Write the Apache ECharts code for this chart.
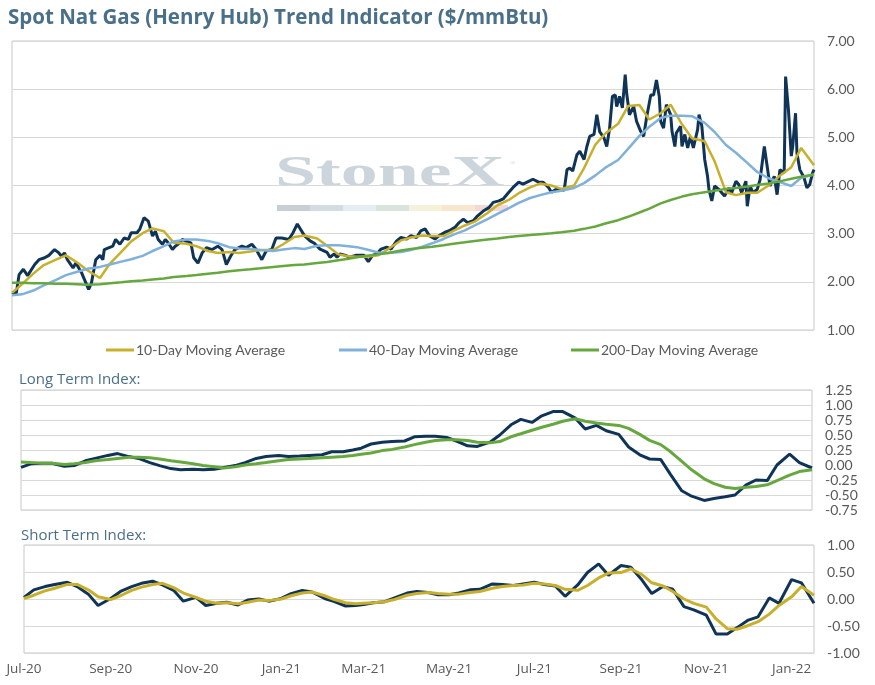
<!DOCTYPE html>
<html><head><meta charset="utf-8">
<script src="https://cdn.jsdelivr.net/npm/echarts@6/dist/echarts.min.js"></script>
<style>html,body{margin:0;padding:0;background:#fff}#c{width:875px;height:685px}</style>
</head><body><div id="c"></div>
<script>
// ---- sampling dates for the moving averages and indices ----
const weekDates = [
'2020-07-01','2020-07-08','2020-07-16','2020-07-23','2020-08-01','2020-08-08','2020-08-16','2020-08-23',
'2020-09-01','2020-09-08','2020-09-16','2020-09-23','2020-10-01','2020-10-08','2020-10-16','2020-10-23',
'2020-11-01','2020-11-08','2020-11-16','2020-11-23','2020-12-01','2020-12-08','2020-12-16','2020-12-23',
'2021-01-01','2021-01-08','2021-01-16','2021-01-23','2021-02-01','2021-02-08','2021-02-16','2021-02-23',
'2021-03-01','2021-03-08','2021-03-16','2021-03-23','2021-04-01','2021-04-08','2021-04-16','2021-04-23',
'2021-05-01','2021-05-08','2021-05-16','2021-05-23','2021-06-01','2021-06-08','2021-06-16','2021-06-23',
'2021-07-01','2021-07-08','2021-07-16','2021-07-23','2021-08-01','2021-08-08','2021-08-16','2021-08-23',
'2021-09-01','2021-09-08','2021-09-16','2021-09-23','2021-10-01','2021-10-08','2021-10-16','2021-10-23',
'2021-11-01','2021-11-08','2021-11-16','2021-11-23','2021-12-01','2021-12-08','2021-12-16','2021-12-23',
'2022-01-01','2022-01-08','2022-01-17'];

// ---- spot price (Henry Hub, $/mmBtu) ----
const spotDates = [
'2020-07-01','2020-07-04','2020-07-06','2020-07-09','2020-07-12','2020-07-17','2020-07-20','2020-07-24','2020-07-27','2020-07-31',
'2020-08-03','2020-08-05','2020-08-07','2020-08-09','2020-08-13','2020-08-15','2020-08-19','2020-08-21','2020-08-24','2020-08-26','2020-08-29',
'2020-09-01','2020-09-03','2020-09-04','2020-09-10','2020-09-12','2020-09-15','2020-09-18','2020-09-21','2020-09-23','2020-09-27','2020-09-29',
'2020-10-02','2020-10-05','2020-10-08','2020-10-10','2020-10-12','2020-10-15','2020-10-17','2020-10-19','2020-10-22','2020-10-24','2020-10-26','2020-10-29',
'2020-11-01','2020-11-04','2020-11-06','2020-11-09','2020-11-12','2020-11-15','2020-11-19','2020-11-23','2020-11-26','2020-11-29',
'2020-12-02','2020-12-05','2020-12-10','2020-12-13','2020-12-17','2020-12-20','2020-12-24','2020-12-27','2020-12-31',
'2021-01-03','2021-01-07','2021-01-12','2021-01-15','2021-01-18','2021-01-23','2021-01-27','2021-01-30',
'2021-02-03','2021-02-08','2021-02-10','2021-02-13','2021-02-15','2021-02-17','2021-02-21','2021-02-24','2021-02-28',
'2021-03-03','2021-03-06','2021-03-09','2021-03-12','2021-03-15','2021-03-18','2021-03-22','2021-03-25','2021-03-29',
'2021-04-01','2021-04-05','2021-04-08','2021-04-12','2021-04-15','2021-04-18','2021-04-21','2021-04-25','2021-04-28',
'2021-05-02','2021-05-05','2021-05-09','2021-05-12','2021-05-15','2021-05-18','2021-05-22','2021-05-25','2021-05-29',
'2021-06-02','2021-06-05','2021-06-09','2021-06-12','2021-06-16','2021-06-19','2021-06-23','2021-06-26',
'2021-07-01','2021-07-03','2021-07-07','2021-07-10','2021-07-14','2021-07-16','2021-07-20','2021-07-22','2021-07-25','2021-07-27','2021-07-29','2021-07-31',
'2021-08-03','2021-08-05','2021-08-08','2021-08-10','2021-08-12','2021-08-15','2021-08-17','2021-08-19','2021-08-22','2021-08-24','2021-08-26','2021-08-28','2021-08-30','2021-08-31',
'2021-09-02','2021-09-04','2021-09-06','2021-09-07','2021-09-09','2021-09-12','2021-09-14','2021-09-17','2021-09-19','2021-09-21','2021-09-24','2021-09-26','2021-09-28','2021-09-30',
'2021-10-01','2021-10-03','2021-10-05','2021-10-08','2021-10-09','2021-10-11','2021-10-12','2021-10-15','2021-10-16','2021-10-18','2021-10-20','2021-10-22','2021-10-24','2021-10-27','2021-10-28','2021-10-30',
'2021-11-01','2021-11-03','2021-11-04','2021-11-06','2021-11-08','2021-11-11','2021-11-13','2021-11-15','2021-11-18','2021-11-20','2021-11-23','2021-11-25','2021-11-27','2021-11-30',
'2021-12-01','2021-12-03','2021-12-05','2021-12-08','2021-12-10','2021-12-13','2021-12-14','2021-12-15','2021-12-17','2021-12-20','2021-12-22','2021-12-24','2021-12-27','2021-12-28','2021-12-30',
'2022-01-01','2022-01-02','2022-01-04','2022-01-05','2022-01-07','2022-01-10','2022-01-12','2022-01-14','2022-01-16','2022-01-17'];
const spotPrice = [
1.78,1.76,2.15,2.26,2.13,2.36,2.46,2.50,2.55,2.67,
2.60,2.53,2.60,2.46,2.29,2.39,2.19,2.05,1.84,1.98,2.46,
2.55,2.46,2.67,2.74,2.88,2.78,2.91,2.88,3.02,3.02,3.09,
3.33,3.26,2.95,3.05,2.88,2.78,2.88,2.81,2.67,2.74,2.78,2.88,
2.84,2.81,2.50,2.39,2.60,2.71,2.67,2.74,2.67,2.36,
2.53,2.67,2.74,2.71,2.78,2.67,2.46,2.64,2.67,
2.91,2.91,2.88,3.02,3.20,2.96,2.85,2.80,
2.68,2.61,2.51,2.58,2.51,2.58,2.55,2.51,2.55,
2.55,2.55,2.42,2.55,2.58,2.68,2.72,2.68,2.85,
2.92,2.89,2.96,2.92,3.06,3.10,2.96,2.89,2.96,
3.03,3.06,3.13,3.23,3.30,3.23,3.27,3.37,3.47,
3.54,3.65,3.68,3.72,3.86,3.96,4.07,4.03,
4.10,4.13,4.07,4.07,3.96,3.86,3.93,3.92,3.90,4.33,4.36,4.30,
4.64,4.71,4.54,4.81,5.02,5.06,5.47,5.12,4.99,4.81,5.19,5.85,5.88,5.64,
5.85,5.61,6.30,5.92,5.47,5.64,5.33,5.12,5.02,5.40,5.88,5.88,6.19,5.85,
5.33,5.19,5.68,5.47,5.12,4.81,5.09,5.23,4.81,5.06,4.78,5.02,4.78,5.16,5.47,5.23,
4.54,4.19,3.92,3.68,3.99,3.92,3.85,3.78,3.95,3.85,4.09,4.02,3.85,4.09,
3.57,3.99,3.85,3.92,4.12,4.81,4.85,4.40,3.99,4.19,3.81,4.33,4.26,6.26,5.57,
4.61,4.81,5.50,4.67,4.33,4.16,3.95,4.02,4.26,4.33];

// ---- moving averages of spot ($/mmBtu) ----
const ma10 = [
1.77,1.95,2.17,2.34, 2.46,2.55,2.40,2.24, 2.08,2.38,2.62,2.84, 3.01,3.11,3.05,2.81,
2.79,2.74,2.64,2.60, 2.62,2.60,2.63,2.66, 2.66,2.78,2.93,2.96, 2.90,2.75,2.57,2.53,
2.52,2.52,2.55,2.68, 2.86,2.92,2.96,2.95, 2.95,3.06,3.17,3.25, 3.43,3.59,3.70,3.84,
3.96,4.04,4.00,3.93, 4.00,4.36,4.85,5.08, 5.28,5.65,5.67,5.37, 5.50,5.68,5.27,4.98,
4.92,4.50,3.86,3.80, 3.85,3.85,4.00,4.18, 4.38,4.78,4.42];
const ma40 = [
1.72,1.74,1.82,1.92, 2.04,2.14,2.21,2.27, 2.31,2.36,2.42,2.47, 2.54,2.64,2.74,2.84,
2.88,2.88,2.85,2.80, 2.72,2.69,2.68,2.66, 2.64,2.67,2.70,2.68, 2.75,2.76,2.76,2.74,
2.72,2.67,2.61,2.60, 2.62,2.66,2.73,2.80, 2.89,2.98,3.07,3.17, 3.30,3.41,3.53,3.64,
3.74,3.80,3.86,3.89, 3.95,4.05,4.21,4.37, 4.53,4.76,5.03,5.22, 5.40,5.45,5.45,5.44,
5.30,5.11,4.84,4.68, 4.47,4.28,4.15,4.08, 3.99,4.16,4.23];
const ma200 = [
1.98,1.98,1.97,1.97, 1.96,1.96,1.95,1.94, 1.95,1.97,1.99,2.01, 2.03,2.05,2.07,2.10,
2.12,2.14,2.17,2.19, 2.22,2.24,2.26,2.28, 2.31,2.33,2.35,2.36, 2.39,2.41,2.45,2.48,
2.51,2.54,2.57,2.60, 2.65,2.68,2.71,2.73, 2.76,2.79,2.82,2.85, 2.88,2.90,2.93,2.95,
2.97,2.99,3.01,3.03, 3.06,3.10,3.15,3.21, 3.28,3.35,3.44,3.52, 3.63,3.70,3.77,3.82,
3.86,3.89,3.93,3.95, 3.98,4.01,4.04,4.08, 4.14,4.18,4.23];

// ---- long term index ----
const longIndex = [
-0.04,0.02,0.03,0.03, -0.02,-0.01,0.07,0.11, 0.16,0.19,0.14,0.11, 0.04,-0.01,-0.06,-0.08,
-0.07,-0.08,-0.07,-0.04, -0.01,0.04,0.11,0.14, 0.16,0.14,0.15,0.16, 0.17,0.22,0.22,0.25,
0.28,0.35,0.38,0.39, 0.40,0.47,0.48,0.48, 0.46,0.40,0.32,0.31, 0.38,0.50,0.67,0.76,
0.71,0.82,0.89,0.89, 0.78,0.60,0.66,0.57, 0.51,0.30,0.17,0.10, 0.09,-0.16,-0.43,-0.52,
-0.59,-0.56,-0.53,-0.50, -0.33,-0.25,-0.26,0.00, 0.18,0.04,-0.05];
const longAvg = [
0.05,0.04,0.03,0.03, 0.01,0.02,0.04,0.07, 0.09,0.11,0.13,0.13, 0.12,0.10,0.07,0.05,
0.02,-0.01,-0.03,-0.05, -0.03,0.00,0.02,0.04, 0.07,0.09,0.10,0.11, 0.12,0.13,0.14,0.16,
0.18,0.20,0.24,0.26, 0.30,0.34,0.38,0.41, 0.42,0.42,0.41,0.38, 0.37,0.39,0.47,0.52,
0.58,0.63,0.68,0.73, 0.77,0.73,0.70,0.68, 0.66,0.61,0.51,0.41, 0.34,0.22,0.06,-0.08,
-0.23,-0.31,-0.37,-0.39, -0.37,-0.36,-0.33,-0.26, -0.17,-0.11,-0.08];

// ---- short term index ----
const shortIndex = [
0.03,0.17,0.23,0.27, 0.31,0.23,0.09,-0.12, 0.01,0.14,0.23,0.29, 0.33,0.26,0.16,-0.04,
0.03,-0.12,-0.08,-0.06, -0.11,-0.02,0.00,-0.04, 0.01,0.10,0.16,0.13, 0.01,-0.05,-0.13,-0.12,
-0.10,-0.07,-0.05,0.02, 0.11,0.14,0.12,0.08, 0.08,0.11,0.17,0.18, 0.28,0.27,0.25,0.28,
0.31,0.27,0.24,0.05, 0.26,0.49,0.65,0.44, 0.62,0.59,0.35,0.10, 0.23,0.18,-0.14,-0.20,
-0.30,-0.65,-0.65,-0.53, -0.39,-0.33,0.02,-0.08, 0.36,0.30,-0.08];
const shortAvg = [
0.01,0.07,0.15,0.20, 0.27,0.27,0.17,0.04, -0.01,0.06,0.16,0.22, 0.27,0.29,0.21,0.11,
0.03,-0.04,-0.08,-0.07, -0.09,-0.06,-0.02,-0.03, 0.00,0.06,0.11,0.13, 0.06,-0.01,-0.07,-0.09,
-0.08,-0.07,-0.05,-0.01, 0.07,0.10,0.12,0.10, 0.09,0.09,0.12,0.14, 0.20,0.23,0.25,0.26,
0.29,0.28,0.25,0.18, 0.16,0.25,0.39,0.48, 0.49,0.56,0.45,0.30, 0.24,0.14,0.00,-0.08,
-0.15,-0.37,-0.55,-0.56, -0.49,-0.42,-0.28,-0.12, 0.04,0.23,0.07];

// ---- axis labels ----
const monthTicks = ['2020-07-01','2020-09-01','2020-11-01','2021-01-01','2021-03-01','2021-05-01',
                    '2021-07-01','2021-09-01','2021-11-01','2022-01-01'];
const monthNames = ['Jan','Feb','Mar','Apr','May','Jun','Jul','Aug','Sep','Oct','Nov','Dec'];
const axisStart = '2020-07-01', axisEnd = '2022-01-17';

const ts = s => { const p = s.split('-').map(Number); return new Date(p[0], p[1]-1, p[2]).getTime(); };
const pairs = (dates, vals) => dates.map((d, i) => [ts(d), vals[i]]);

const NAVY = '#0f3457', GOLD = '#c8b02c', BLUE = '#7fb1da', GREEN = '#66a83e';
const FONT = 'Lato';
const labelStyle = { color: '#595959', fontSize: 14, fontFamily: FONT };

function xAx(gridIndex, showLabels) {
  return {
    type: 'value', gridIndex, min: ts(axisStart), max: ts(axisEnd),
    axisLine: { show: false }, axisTick: { show: false }, splitLine: { show: false },
    axisLabel: showLabels ? Object.assign({
      margin: 9, customValues: monthTicks.map(ts), showMinLabel: true, showMaxLabel: true,
      formatter: v => { const d = new Date(v); return monthNames[d.getMonth()] + '-' + String(d.getFullYear()).slice(2); }
    }, labelStyle, { fontFamily: 'Open Sans', fontSize: 13.5 }) : { show: false }
  };
}
function yAx(gridIndex, min, max, interval) {
  return {
    type: 'value', gridIndex, position: 'right', min, max, interval,
    axisLine: { show: false }, axisTick: { show: false },
    splitLine: { lineStyle: { color: '#d9d9d9', width: 1 } },
    axisLabel: Object.assign({ margin: 13, formatter: v => v.toFixed(2) }, labelStyle)
  };
}
function line(name, xi, data, color, width, z) {
  return { name, type: 'line', xAxisIndex: xi, yAxisIndex: xi, data, showSymbol: false, symbol: 'none',
           lineStyle: { color, width }, itemStyle: { color }, z, emphasis: { disabled: true } };
}
const legendBase = { top: 338, icon: 'rect', itemWidth: 28, itemHeight: 3, itemGap: 0,
                     textStyle: { color: '#595959', fontSize: 14, fontFamily: FONT, padding: [0,0,0,-3] } };

const chart = echarts.init(document.getElementById('c'), null, { renderer: 'canvas' });
chart.setOption({
  animation: false,
  backgroundColor: '#ffffff',
  grid: [
    { left: 12, right: 61, top: 41, height: 289, show: true, borderColor: '#c8c8c8', borderWidth: 1 },
    { left: 21, right: 63, top: 390, height: 120, show: true, borderColor: '#c8c8c8', borderWidth: 1 },
    { left: 24, right: 61, top: 545, height: 108, show: true, borderColor: '#c8c8c8', borderWidth: 1 }
  ],
  title: [
    { text: 'Spot Nat Gas (Henry Hub) Trend Indicator ($/mmBtu)', left: 3, top: 3,
      textStyle: { color: '#4a6f89', fontSize: 20.5, fontWeight: 'bold', fontFamily: 'Open Sans' } },
    { text: 'Long Term Index:', left: 14, top: 367,
      textStyle: { color: '#4a6f89', fontSize: 15, fontWeight: 'normal', fontFamily: 'Open Sans' } },
    { text: 'Short Term Index:', left: 16, top: 523,
      textStyle: { color: '#4a6f89', fontSize: 15, fontWeight: 'normal', fontFamily: 'Open Sans' } }
  ],
  legend: [
    Object.assign({ left: 101, data: ['10-Day Moving Average'] }, legendBase),
    Object.assign({ left: 334, data: ['40-Day Moving Average'] }, legendBase),
    Object.assign({ left: 566, data: ['200-Day Moving Average'] }, legendBase)
  ],
  graphic: [
    { type: 'text', x: 275, y: 153, scaleX: 1.68, z: 0, silent: true,
      style: { text: 'StoneX', fill: '#cdd5dc', font: 'bold 44px "Liberation Serif"', verticalAlign: 'top' } },
    { type: 'text', x: 510, y: 160, z: 0, silent: true,
      style: { text: '®', fill: '#cdd5dc', font: '7px "Liberation Serif"' } },
    { type: 'group', x: 277, y: 205, z: 0, silent: true, children: [
      { type: 'rect', shape: { x: 0, y: 0, width: 33, height: 6 }, style: { fill: '#c9ced4' } },
      { type: 'rect', shape: { x: 33, y: 0, width: 33, height: 6 }, style: { fill: '#d3dbe3' } },
      { type: 'rect', shape: { x: 66, y: 0, width: 33, height: 6 }, style: { fill: '#e3edf3' } },
      { type: 'rect', shape: { x: 99, y: 0, width: 33, height: 6 }, style: { fill: '#d9e4dc' } },
      { type: 'rect', shape: { x: 132, y: 0, width: 33, height: 6 }, style: { fill: '#f5f1da' } },
      { type: 'rect', shape: { x: 165, y: 0, width: 33, height: 6 }, style: { fill: '#f8e6cf' } },
      { type: 'rect', shape: { x: 198, y: 0, width: 33, height: 6 }, style: { fill: '#f4d7d7' } }
    ] }
  ],
  xAxis: [xAx(0, false), xAx(1, false), xAx(2, true)],
  yAxis: [yAx(0, 1, 7, 1), yAx(1, -0.75, 1.25, 0.25), yAx(2, -1, 1, 0.5)],
  series: [
    line('Spot', 0, pairs(spotDates, spotPrice), NAVY, 3, 3),
    line('10-Day Moving Average', 0, pairs(weekDates, ma10), GOLD, 2.5, 4),
    line('40-Day Moving Average', 0, pairs(weekDates, ma40), BLUE, 2.5, 4),
    line('200-Day Moving Average', 0, pairs(weekDates, ma200), GREEN, 2.5, 4),
    line('Long Term Index', 1, pairs(weekDates, longIndex), NAVY, 3, 3),
    line('Long Term Average', 1, pairs(weekDates, longAvg), GREEN, 3, 4),
    line('Short Term Index', 2, pairs(weekDates, shortIndex), NAVY, 3, 3),
    line('Short Term Average', 2, pairs(weekDates, shortAvg), GOLD, 3, 4)
  ]
});
</script></body></html>
